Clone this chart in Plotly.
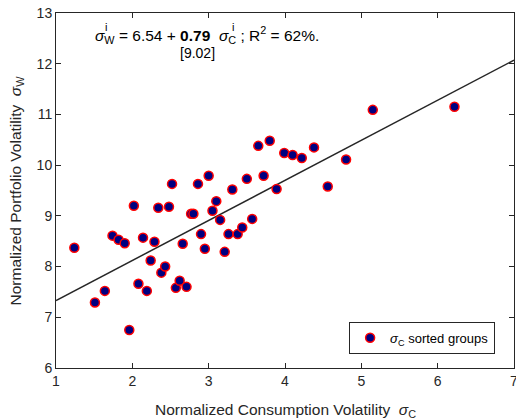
import plotly.graph_objects as go

# sorted groups: consumption volatility vs portfolio volatility
sigma_c = [1.24, 1.51, 1.64, 1.74, 1.82, 1.90, 1.96, 2.02, 2.08, 2.14,
           2.19, 2.24, 2.29, 2.34, 2.38, 2.43, 2.48, 2.52, 2.57, 2.62,
           2.66, 2.71, 2.77, 2.80, 2.86, 2.90, 2.95, 3.00, 3.05, 3.10,
           3.15, 3.21, 3.26, 3.31, 3.38, 3.44, 3.50, 3.57, 3.65, 3.72,
           3.80, 3.89, 3.99, 4.10, 4.22, 4.38, 4.56, 4.80, 5.15, 6.22]
sigma_w = [8.37, 7.29, 7.52, 8.61, 8.53, 8.46, 6.75, 9.20, 7.66, 8.57,
           7.52, 8.12, 8.49, 9.16, 7.88, 8.00, 9.18, 9.63, 7.58, 7.72,
           8.45, 7.60, 9.04, 9.04, 9.63, 8.64, 8.35, 9.79, 9.10, 9.29,
           8.92, 8.29, 8.64, 9.52, 8.64, 8.77, 9.73, 8.94, 10.38, 9.79,
           10.48, 9.53, 10.24, 10.20, 10.14, 10.35, 9.58, 10.11, 11.09, 11.15]

intercept = 6.54
slope = 0.79
fit_x = [1, 7]
fit_y = [intercept + slope * v for v in fit_x]

x_ticks = [1, 2, 3, 4, 5, 6, 7]
y_ticks = [6, 7, 8, 9, 10, 11, 12, 13]

axis_col = "#262626"
font = "Liberation Sans, Arial, sans-serif"

# body margin is removed by the post script, so use the whole window
W, H = 516, 419
ML, MR, MT, MB = 56, 2, 13, 51
pw, ph = W - ML - MR, H - MT - MB

fig = go.Figure()
fig.add_trace(go.Scatter(x=fit_x, y=fit_y, mode="lines",
                         line=dict(color="#262626", width=1.5),
                         showlegend=False, hoverinfo="skip"))
fig.add_trace(go.Scatter(x=sigma_c, y=sigma_w, mode="markers",
                         name="<i>σ</i><sub>C</sub> sorted groups",
                         marker=dict(color="#000080", size=9,
                                     line=dict(color="#ff0000", width=1.5))))

ann = [
    dict(x=1.49, y=12.57, xanchor="left", yanchor="middle",
         text="<i>σ</i><sub>W</sub> = 6.54 + <b>0.79</b>  <i>σ</i><sub>C</sub> ; R<sup>2</sup> = 62%.",
         font=dict(size=15.5, color="black")),
    dict(x=1.65, y=12.72, xanchor="center", yanchor="middle", text="i",
         font=dict(size=11, color="black")),
    dict(x=3.32, y=12.72, xanchor="center", yanchor="middle", text="i",
         font=dict(size=11, color="black")),
    dict(x=2.85, y=12.22, xanchor="center", yanchor="middle", text="[9.02]",
         font=dict(size=14, color="black")),
]
for a in ann:
    a.update(xref="x", yref="y", showarrow=False)

# axis titles placed by hand
ann.append(dict(x=0.5, y=-31 / ph, xref="paper", yref="paper",
                xanchor="center", yanchor="top", showarrow=False,
                text="Normalized Consumption Volatility  <i>σ</i><sub>C</sub>",
                font=dict(size=15.5, color=axis_col)))
ann.append(dict(x=-40 / pw, y=0.5, xref="paper", yref="paper",
                xanchor="center", yanchor="middle", showarrow=False, textangle=-90,
                text="Normalized Portfolio Volatility  <i>σ</i><sub>W</sub>",
                font=dict(size=15.5, color=axis_col)))

fig.update_layout(
    width=W, height=H,
    margin=dict(l=ML, r=MR, t=MT, b=MB),
    paper_bgcolor="white", plot_bgcolor="white",
    font=dict(family=font, size=14, color=axis_col),
    annotations=ann,
    legend=dict(x=0.64, y=0.04, xanchor="left", yanchor="bottom",
                bordercolor=axis_col, borderwidth=1, bgcolor="white",
                font=dict(size=13, color="black")),
)
fig.update_xaxes(range=[1, 7], tickvals=x_ticks, ticks="inside", ticklen=5,
                 showgrid=False, zeroline=False, showline=True, linecolor=axis_col,
                 linewidth=1, mirror="allticks", tickcolor=axis_col, automargin=False,
                 ticklabeloverflow="allow")
fig.update_yaxes(range=[6, 13], tickvals=y_ticks, ticks="inside", ticklen=5,
                 showgrid=False, zeroline=False, showline=True, linecolor=axis_col,
                 linewidth=1, mirror="allticks", tickcolor=axis_col, automargin=False,
                 ticklabeloverflow="allow")

fig.write_html("out.html", config={"displayModeBar": False},
               post_script="document.body.style.margin='0';document.body.style.overflow='hidden';")
